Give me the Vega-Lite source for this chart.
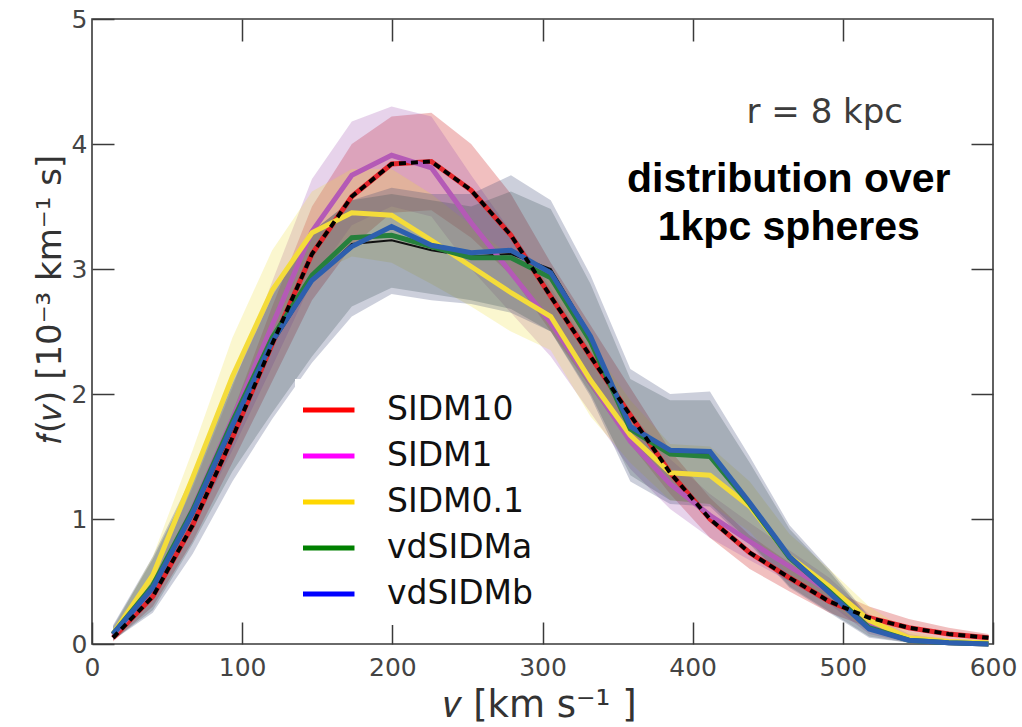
{
  "$schema": "https://vega.github.io/schema/vega-lite/v6.json",
  "width": 901,
  "height": 625,
  "autosize": "none",
  "padding": {"left": 92, "top": 19, "right": 29, "bottom": 83},
  "config": {
    "view": {"stroke": "#3a3a3a", "strokeWidth": 1.6},
    "font": "DejaVu Sans",
    "legend": {
      "orient": "none", "legendX": 203, "legendY": 360,
      "title": null, "fillColor": "white", "padding": 8,
      "symbolType": "M-1.13,0H1.13", "symbolSize": 2116, "symbolStrokeWidth": 5,
      "symbolOpacity": 1, "clipHeight": 46,
      "labelFontSize": 33, "labelColor": "#111", "labelOffset": 33, "rowPadding": 0
    }
  },
  "datasets": {
    "main": [
      {"s": "SIDM10", "v": 14, "f": 0.05, "lo": 0.02, "hi": 0.08},
      {"s": "SIDM10", "v": 40.5, "f": 0.38, "lo": 0.3, "hi": 0.45},
      {"s": "SIDM10", "v": 67, "f": 0.95, "lo": 0.82, "hi": 1.08},
      {"s": "SIDM10", "v": 93.5, "f": 1.65, "lo": 1.45, "hi": 1.85},
      {"s": "SIDM10", "v": 120, "f": 2.4, "lo": 2.1, "hi": 2.7},
      {"s": "SIDM10", "v": 146.5, "f": 3.12, "lo": 2.75, "hi": 3.5},
      {"s": "SIDM10", "v": 173, "f": 3.58, "lo": 3.18, "hi": 4.0},
      {"s": "SIDM10", "v": 199.5, "f": 3.84, "lo": 3.45, "hi": 4.22},
      {"s": "SIDM10", "v": 226, "f": 3.86, "lo": 3.47, "hi": 4.25},
      {"s": "SIDM10", "v": 252.5, "f": 3.63, "lo": 3.25, "hi": 4.0},
      {"s": "SIDM10", "v": 279, "f": 3.27, "lo": 2.95, "hi": 3.6},
      {"s": "SIDM10", "v": 305.5, "f": 2.78, "lo": 2.5, "hi": 3.05},
      {"s": "SIDM10", "v": 332, "f": 2.3, "lo": 2.05, "hi": 2.55},
      {"s": "SIDM10", "v": 358.5, "f": 1.83, "lo": 1.6, "hi": 2.05},
      {"s": "SIDM10", "v": 385, "f": 1.37, "lo": 1.2, "hi": 1.55},
      {"s": "SIDM10", "v": 411.5, "f": 1.0, "lo": 0.85, "hi": 1.17},
      {"s": "SIDM10", "v": 438, "f": 0.73, "lo": 0.6, "hi": 0.87},
      {"s": "SIDM10", "v": 464.5, "f": 0.53, "lo": 0.42, "hi": 0.65},
      {"s": "SIDM10", "v": 491, "f": 0.34, "lo": 0.25, "hi": 0.44},
      {"s": "SIDM10", "v": 517.5, "f": 0.21, "lo": 0.13, "hi": 0.3},
      {"s": "SIDM10", "v": 544, "f": 0.13, "lo": 0.07, "hi": 0.2},
      {"s": "SIDM10", "v": 570.5, "f": 0.08, "lo": 0.03, "hi": 0.13},
      {"s": "SIDM10", "v": 597, "f": 0.05, "lo": 0.02, "hi": 0.08},

      {"s": "SIDM1", "v": 14, "f": 0.07, "lo": 0.04, "hi": 0.1},
      {"s": "SIDM1", "v": 40.5, "f": 0.45, "lo": 0.37, "hi": 0.55},
      {"s": "SIDM1", "v": 67, "f": 1.08, "lo": 0.92, "hi": 1.25},
      {"s": "SIDM1", "v": 93.5, "f": 1.8, "lo": 1.55, "hi": 2.05},
      {"s": "SIDM1", "v": 120, "f": 2.55, "lo": 2.22, "hi": 2.9},
      {"s": "SIDM1", "v": 146.5, "f": 3.3, "lo": 2.9, "hi": 3.72},
      {"s": "SIDM1", "v": 173, "f": 3.75, "lo": 3.35, "hi": 4.18},
      {"s": "SIDM1", "v": 199.5, "f": 3.91, "lo": 3.5, "hi": 4.3},
      {"s": "SIDM1", "v": 226, "f": 3.81, "lo": 3.42, "hi": 4.22},
      {"s": "SIDM1", "v": 252.5, "f": 3.37, "lo": 3.0, "hi": 3.75},
      {"s": "SIDM1", "v": 279, "f": 2.97, "lo": 2.65, "hi": 3.3},
      {"s": "SIDM1", "v": 305.5, "f": 2.57, "lo": 2.3, "hi": 2.85},
      {"s": "SIDM1", "v": 332, "f": 2.1, "lo": 1.85, "hi": 2.35},
      {"s": "SIDM1", "v": 358.5, "f": 1.62, "lo": 1.4, "hi": 1.85},
      {"s": "SIDM1", "v": 385, "f": 1.28, "lo": 1.08, "hi": 1.48},
      {"s": "SIDM1", "v": 411.5, "f": 1.03, "lo": 0.85, "hi": 1.2},
      {"s": "SIDM1", "v": 438, "f": 0.82, "lo": 0.67, "hi": 0.97},
      {"s": "SIDM1", "v": 464.5, "f": 0.62, "lo": 0.5, "hi": 0.75},
      {"s": "SIDM1", "v": 491, "f": 0.42, "lo": 0.32, "hi": 0.53},
      {"s": "SIDM1", "v": 517.5, "f": 0.15, "lo": 0.08, "hi": 0.24},
      {"s": "SIDM1", "v": 544, "f": 0.04, "lo": 0.01, "hi": 0.08},
      {"s": "SIDM1", "v": 570.5, "f": 0.01, "lo": 0, "hi": 0.03},
      {"s": "SIDM1", "v": 597, "f": 0, "lo": 0, "hi": 0.01},

      {"s": "SIDM0.1", "v": 14, "f": 0.08, "lo": 0.05, "hi": 0.12},
      {"s": "SIDM0.1", "v": 40.5, "f": 0.55, "lo": 0.42, "hi": 0.7},
      {"s": "SIDM0.1", "v": 67, "f": 1.33, "lo": 1.1, "hi": 1.55},
      {"s": "SIDM0.1", "v": 93.5, "f": 2.14, "lo": 1.85, "hi": 2.45},
      {"s": "SIDM0.1", "v": 120, "f": 2.83, "lo": 2.5, "hi": 3.15},
      {"s": "SIDM0.1", "v": 146.5, "f": 3.29, "lo": 2.95, "hi": 3.62},
      {"s": "SIDM0.1", "v": 173, "f": 3.45, "lo": 3.1, "hi": 3.8},
      {"s": "SIDM0.1", "v": 199.5, "f": 3.43, "lo": 3.05, "hi": 3.8},
      {"s": "SIDM0.1", "v": 226, "f": 3.23, "lo": 2.88, "hi": 3.6},
      {"s": "SIDM0.1", "v": 252.5, "f": 3.02, "lo": 2.7, "hi": 3.35},
      {"s": "SIDM0.1", "v": 279, "f": 2.81, "lo": 2.5, "hi": 3.1},
      {"s": "SIDM0.1", "v": 305.5, "f": 2.62, "lo": 2.35, "hi": 2.9},
      {"s": "SIDM0.1", "v": 332, "f": 2.11, "lo": 1.82, "hi": 2.4},
      {"s": "SIDM0.1", "v": 358.5, "f": 1.67, "lo": 1.45, "hi": 1.95},
      {"s": "SIDM0.1", "v": 385, "f": 1.37, "lo": 1.15, "hi": 1.6},
      {"s": "SIDM0.1", "v": 411.5, "f": 1.35, "lo": 1.12, "hi": 1.58},
      {"s": "SIDM0.1", "v": 438, "f": 1.1, "lo": 0.9, "hi": 1.3},
      {"s": "SIDM0.1", "v": 464.5, "f": 0.7, "lo": 0.55, "hi": 0.88},
      {"s": "SIDM0.1", "v": 491, "f": 0.46, "lo": 0.33, "hi": 0.6},
      {"s": "SIDM0.1", "v": 517.5, "f": 0.19, "lo": 0.1, "hi": 0.3},
      {"s": "SIDM0.1", "v": 544, "f": 0.05, "lo": 0.02, "hi": 0.1},
      {"s": "SIDM0.1", "v": 570.5, "f": 0.02, "lo": 0, "hi": 0.04},
      {"s": "SIDM0.1", "v": 597, "f": 0.01, "lo": 0, "hi": 0.02},

      {"s": "vdSIDMa", "v": 14, "f": 0.08, "lo": 0.03, "hi": 0.14},
      {"s": "vdSIDMa", "v": 40.5, "f": 0.47, "lo": 0.27, "hi": 0.68},
      {"s": "vdSIDMa", "v": 67, "f": 1.07, "lo": 0.8, "hi": 1.32},
      {"s": "vdSIDMa", "v": 93.5, "f": 1.78, "lo": 1.38, "hi": 2.08},
      {"s": "vdSIDMa", "v": 120, "f": 2.45, "lo": 1.85, "hi": 2.78},
      {"s": "vdSIDMa", "v": 146.5, "f": 2.95, "lo": 2.3, "hi": 3.3},
      {"s": "vdSIDMa", "v": 173, "f": 3.25, "lo": 2.7, "hi": 3.55},
      {"s": "vdSIDMa", "v": 199.5, "f": 3.27, "lo": 2.85, "hi": 3.6},
      {"s": "vdSIDMa", "v": 226, "f": 3.18, "lo": 2.8, "hi": 3.55},
      {"s": "vdSIDMa", "v": 252.5, "f": 3.09, "lo": 2.75, "hi": 3.5},
      {"s": "vdSIDMa", "v": 279, "f": 3.09, "lo": 2.68, "hi": 3.62},
      {"s": "vdSIDMa", "v": 305.5, "f": 2.93, "lo": 2.5, "hi": 3.48},
      {"s": "vdSIDMa", "v": 332, "f": 2.42, "lo": 2.0, "hi": 2.88},
      {"s": "vdSIDMa", "v": 358.5, "f": 1.72, "lo": 1.35, "hi": 2.12},
      {"s": "vdSIDMa", "v": 385, "f": 1.52, "lo": 1.15, "hi": 1.95},
      {"s": "vdSIDMa", "v": 411.5, "f": 1.5, "lo": 1.12, "hi": 1.95},
      {"s": "vdSIDMa", "v": 438, "f": 1.12, "lo": 0.82, "hi": 1.45},
      {"s": "vdSIDMa", "v": 464.5, "f": 0.69, "lo": 0.46, "hi": 0.92},
      {"s": "vdSIDMa", "v": 491, "f": 0.42, "lo": 0.26, "hi": 0.58},
      {"s": "vdSIDMa", "v": 517.5, "f": 0.13, "lo": 0.06, "hi": 0.2},
      {"s": "vdSIDMa", "v": 544, "f": 0.03, "lo": 0.01, "hi": 0.05},
      {"s": "vdSIDMa", "v": 570.5, "f": 0.01, "lo": 0, "hi": 0.02},
      {"s": "vdSIDMa", "v": 597, "f": 0, "lo": 0, "hi": 0.01},

      {"s": "vdSIDMb", "v": 14, "f": 0.08, "lo": 0.03, "hi": 0.15},
      {"s": "vdSIDMb", "v": 40.5, "f": 0.45, "lo": 0.25, "hi": 0.7},
      {"s": "vdSIDMb", "v": 67, "f": 1.05, "lo": 0.72, "hi": 1.35},
      {"s": "vdSIDMb", "v": 93.5, "f": 1.75, "lo": 1.3, "hi": 2.1},
      {"s": "vdSIDMb", "v": 120, "f": 2.42, "lo": 1.8, "hi": 2.8},
      {"s": "vdSIDMb", "v": 146.5, "f": 2.91, "lo": 2.25, "hi": 3.3},
      {"s": "vdSIDMb", "v": 173, "f": 3.18, "lo": 2.62, "hi": 3.55},
      {"s": "vdSIDMb", "v": 199.5, "f": 3.34, "lo": 2.8, "hi": 3.65},
      {"s": "vdSIDMb", "v": 226, "f": 3.19, "lo": 2.75, "hi": 3.6},
      {"s": "vdSIDMb", "v": 252.5, "f": 3.13, "lo": 2.72, "hi": 3.6},
      {"s": "vdSIDMb", "v": 279, "f": 3.15, "lo": 2.65, "hi": 3.75},
      {"s": "vdSIDMb", "v": 305.5, "f": 2.97, "lo": 2.5, "hi": 3.55},
      {"s": "vdSIDMb", "v": 332, "f": 2.46, "lo": 1.98, "hi": 2.95},
      {"s": "vdSIDMb", "v": 358.5, "f": 1.74, "lo": 1.3, "hi": 2.2},
      {"s": "vdSIDMb", "v": 385, "f": 1.55, "lo": 1.12, "hi": 2.0},
      {"s": "vdSIDMb", "v": 411.5, "f": 1.54, "lo": 1.1, "hi": 2.02},
      {"s": "vdSIDMb", "v": 438, "f": 1.13, "lo": 0.8, "hi": 1.5},
      {"s": "vdSIDMb", "v": 464.5, "f": 0.7, "lo": 0.45, "hi": 0.95},
      {"s": "vdSIDMb", "v": 491, "f": 0.41, "lo": 0.25, "hi": 0.6},
      {"s": "vdSIDMb", "v": 517.5, "f": 0.12, "lo": 0.05, "hi": 0.22},
      {"s": "vdSIDMb", "v": 544, "f": 0.03, "lo": 0.01, "hi": 0.06},
      {"s": "vdSIDMb", "v": 570.5, "f": 0.01, "lo": 0, "hi": 0.02},
      {"s": "vdSIDMb", "v": 597, "f": 0, "lo": 0, "hi": 0.01}
    ],
    "cdm": [
      {"v": 14, "f": 0.07}, {"v": 40.5, "f": 0.44}, {"v": 67, "f": 1.03},
      {"v": 93.5, "f": 1.72}, {"v": 120, "f": 2.4}, {"v": 146.5, "f": 2.9},
      {"v": 173, "f": 3.2}, {"v": 199.5, "f": 3.23}, {"v": 226, "f": 3.15},
      {"v": 252.5, "f": 3.1}, {"v": 279, "f": 3.12}, {"v": 305.5, "f": 3.0},
      {"v": 332, "f": 2.47}, {"v": 358.5, "f": 1.73}, {"v": 385, "f": 1.53},
      {"v": 411.5, "f": 1.52}, {"v": 438, "f": 1.12}, {"v": 464.5, "f": 0.69},
      {"v": 491, "f": 0.41}, {"v": 517.5, "f": 0.12}, {"v": 544, "f": 0.03},
      {"v": 570.5, "f": 0.01}, {"v": 597, "f": 0}
    ]
  },
  "layer": [
    {
      "data": {"name": "main"},
      "mark": {"type": "area", "opacity": 0.25},
      "encoding": {
        "x": {
          "field": "v", "type": "quantitative",
          "scale": {"domain": [0, 600], "nice": false},
          "axis": {
            "orient": "bottom", "values": [0, 100, 200, 300, 400, 500, 600],
            "domain": false, "grid": false, "labelFlush": false,
            "tickSize": -22, "tickColor": "#3a3a3a", "tickWidth": 1.5,
            "labelPadding": 33, "labelFontSize": 25, "labelColor": "#444",
            "title": "𝑣 [km s⁻¹ ]", "titleFontSize": 37, "titleFontWeight": "normal",
            "titleColor": "#333", "titleX": 448, "titleY": 72, "titleBaseline": "alphabetic"
          }
        },
        "y": {
          "field": "lo", "type": "quantitative",
          "scale": {"domain": [0, 5], "nice": false},
          "axis": {
            "orient": "left", "values": [0, 1, 2, 3, 4, 5],
            "domain": false, "grid": false, "labelFlush": false,
            "tickSize": -22, "tickColor": "#3a3a3a", "tickWidth": 1.5,
            "labelPadding": 27, "labelFontSize": 25, "labelColor": "#444",
            "title": "𝑓(𝑣) [10⁻³ km⁻¹ s]", "titleFontSize": 34, "titleFontWeight": "normal",
            "titleColor": "#333", "titleX": -32, "titleY": 280, "titleAngle": 270,
            "titleBaseline": "alphabetic", "titleAlign": "center"
          }
        },
        "y2": {"field": "hi"},
        "fill": {
          "field": "s", "type": "nominal",
          "scale": {
            "domain": ["vdSIDMb", "vdSIDMa", "SIDM0.1", "SIDM1", "SIDM10"],
            "range": ["#32416e", "#325046", "#f0e040", "#a050b0", "#c80000"]
          },
          "legend": null
        }
      }
    },
    {
      "data": {"name": "cdm"},
      "mark": {"type": "line", "color": "#111", "strokeWidth": 2},
      "encoding": {
        "x": {"field": "v", "type": "quantitative", "axis": null},
        "y": {"field": "f", "type": "quantitative", "axis": null}
      }
    },
    {
      "data": {"name": "main"},
      "mark": {"type": "line", "strokeWidth": 5},
      "encoding": {
        "x": {"field": "v", "type": "quantitative", "axis": null},
        "y": {"field": "f", "type": "quantitative", "axis": null},
        "color": {
          "field": "s", "type": "nominal",
          "scale": {
            "domain": ["SIDM1", "SIDM0.1", "vdSIDMa", "vdSIDMb", "SIDM10"],
            "range": ["#b45ab6", "#f4dc3a", "#26803c", "#2d5fae", "#e4262c"]
          },
          "legend": null
        }
      }
    },
    {
      "data": {"name": "main"},
      "transform": [{"filter": "false"}],
      "mark": {"type": "line", "strokeWidth": 5},
      "encoding": {
        "x": {"field": "v", "type": "quantitative", "axis": null},
        "y": {"field": "f", "type": "quantitative", "axis": null},
        "stroke": {
          "field": "s", "type": "nominal",
          "scale": {
            "domain": ["SIDM10", "SIDM1", "SIDM0.1", "vdSIDMa", "vdSIDMb"],
            "range": ["#ff0000", "#ff00ff", "#ffd700", "#008000", "#0000ff"]
          },
          "legend": {}
        }
      }
    },
    {
      "data": {"name": "main"},
      "transform": [{"filter": "datum.s === 'SIDM10'"}],
      "mark": {"type": "line", "color": "black", "strokeWidth": 4, "strokeDash": [7, 5]},
      "encoding": {
        "x": {
          "field": "v", "type": "quantitative",
          "axis": {"orient": "top", "values": [100, 200, 300, 400, 500], "labels": false,
                   "domain": false, "grid": false, "title": null,
                   "tickSize": -22, "tickColor": "#3a3a3a", "tickWidth": 1.5}
        },
        "y": {
          "field": "f", "type": "quantitative",
          "axis": {"orient": "right", "values": [1, 2, 3, 4], "labels": false,
                   "domain": false, "grid": false, "title": null,
                   "tickSize": -22, "tickColor": "#3a3a3a", "tickWidth": 1.5}
        }
      }
    },
    {
      "data": {"values": [{}]},
      "mark": {"type": "text", "text": "r = 8 kpc", "fontSize": 34, "color": "#3c3c3c", "font": "DejaVu Sans", "align": "center", "baseline": "alphabetic"},
      "encoding": {
        "x": {"datum": 488, "type": "quantitative", "axis": null},
        "y": {"datum": 4.17, "type": "quantitative", "axis": null}
      }
    },
    {
      "data": {"values": [{}]},
      "mark": {"type": "text", "text": ["distribution over", " 1kpc spheres"], "fontSize": 41, "fontWeight": "bold", "font": "Liberation Sans", "lineHeight": 48, "color": "black", "align": "center", "baseline": "alphabetic"},
      "encoding": {
        "x": {"datum": 464, "type": "quantitative", "axis": null},
        "y": {"datum": 3.62, "type": "quantitative", "axis": null}
      }
    }
  ],
  "resolve": {"axis": {"x": "independent", "y": "independent"}}
}
